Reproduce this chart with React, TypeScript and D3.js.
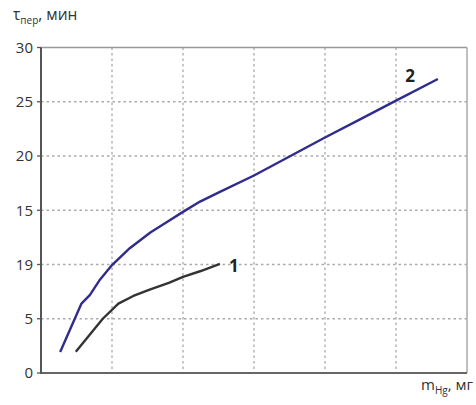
import React from "react";
import * as d3 from "d3";

const yTicks = [0, 5, 10, 15, 20, 25, 30];
const yTickLabels = ["0", "5", "19", "15", "20", "25", "30"];
const xGrid = [1, 2, 3, 4, 5];

const curve1X = [0.49, 0.87, 1.09, 1.3, 1.54, 1.8, 2.0, 2.25, 2.52];
const curve1Y = [1.96, 5.0, 6.4, 7.1, 7.7, 8.3, 8.85, 9.4, 10.05];
const curve2X = [0.27, 0.57, 0.69, 0.83, 1.0, 1.25, 1.54, 1.78, 2.0, 2.24, 2.52, 3.0, 3.5, 4.0, 4.5, 5.0, 5.59];
const curve2Y = [1.94, 6.4, 7.2, 8.6, 9.95, 11.5, 12.95, 13.95, 14.85, 15.8, 16.7, 18.2, 19.95, 21.7, 23.4, 25.1, 27.1];

export default function App() {
  const W = 476, H = 405;
  const left = 41, right = 467, top = 47.5, bottom = 373;
  const x = d3.scaleLinear().domain([0, 6]).range([left, right]);
  const y = d3.scaleLinear().domain([0, 30]).range([bottom, top]);
  const line = d3.line<[number, number]>().x(d => x(d[0])).y(d => y(d[1]));
  const d1 = line(curve1X.map((v, i) => [v, curve1Y[i]]) as [number, number][]) || "";
  const d2 = line(curve2X.map((v, i) => [v, curve2Y[i]]) as [number, number][]) || "";
  const font = "'Open Sans', 'Noto Sans', sans-serif";
  return (
    <svg width={W} height={H} style={{ position: "absolute", left: 0, top: 0, background: "#fff" }}
      fontFamily={font}>
      {yTicks.filter(t => t > 0 && t < 30).map(t => (
        <line key={"h" + t} x1={left} x2={right} y1={y(t)} y2={y(t)} stroke="#aaa" strokeWidth={1.3} strokeDasharray="2.5,3" />
      ))}
      {xGrid.map(t => (
        <line key={"v" + t} x1={x(t)} x2={x(t)} y1={top} y2={bottom} stroke="#aaa" strokeWidth={1.3} strokeDasharray="2.5,3" />
      ))}
      <line x1={left} x2={right} y1={top} y2={top} stroke="#999" strokeWidth={1.5} />
      <line x1={right} x2={right} y1={top} y2={bottom} stroke="#aaa" strokeWidth={1.5} />
      <line x1={left} x2={right} y1={bottom} y2={bottom} stroke="#666" strokeWidth={1.8} />
      <line x1={left} x2={left} y1={top} y2={bottom + 1} stroke="#555" strokeWidth={2} />
      {yTicks.map((t, i) => (
        <g key={"t" + t}>
          <line x1={left - 4} x2={left} y1={y(t)} y2={y(t)} stroke="#555" strokeWidth={1.3} />
          <text x={33} y={y(t)} dy="0.35em" textAnchor="end" fontSize={15} fill="#333">{yTickLabels[i]}</text>
        </g>
      ))}
      <path d={d1} fill="none" stroke="#333" strokeWidth={2.4} strokeLinejoin="round" />
      <path d={d2} fill="none" stroke="#302b8c" strokeWidth={2.4} strokeLinejoin="round" />
      <text x={x(2.52) + 9} y={y(10.05) + 2} dy="0.38em" fontSize={17} fontWeight="bold" fill="#222">1</text>
      <text x={x(5.27) - 10} y={y(28.3) + 10} dy="0.38em" fontSize={17} fontWeight="bold" fill="#222">2</text>
      <text x={13} y={20} fontSize={15.5} fill="#333">
        τ<tspan fontSize={10} dy={4}>пер</tspan><tspan dy={-4}>, мин</tspan>
      </text>
      <text x={421} y={390} fontSize={15} fill="#333">
        m<tspan fontSize={10} dy={4}>Hg</tspan><tspan dy={-4}>, мг</tspan>
      </text>
    </svg>
  );
}
